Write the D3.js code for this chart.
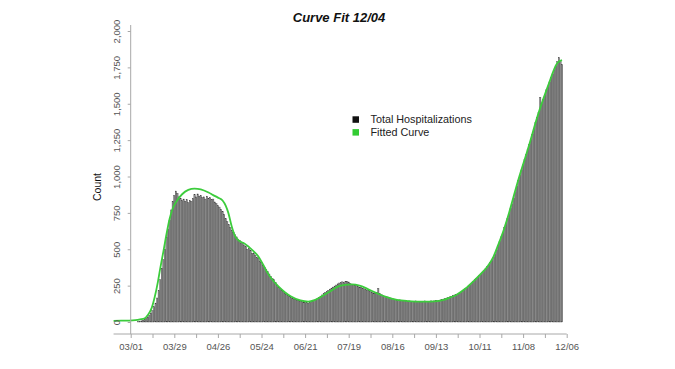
<!DOCTYPE html>
<html><head><meta charset="utf-8">
<script src="https://cdn.jsdelivr.net/npm/d3@7"></script>
<style>body{margin:0;background:#fff}svg{display:block;font-family:"Liberation Sans",Arial,sans-serif}</style>
</head><body>
<svg id="c" width="675" height="369"></svg>
<script>
const startDate = "2020-02-19";
const hospitalizations = [
0,0,0,0,0,0,0,0,0,0,
0,0,0,0,0,0,3,5,8,12,
18,25,35,48,62,80,105,130,165,215,
290,370,430,500,580,640,700,770,830,870,
900,885,860,850,835,845,830,840,820,835,
830,850,875,860,880,865,870,855,860,845,
865,850,855,840,845,825,815,800,790,775,
760,740,710,690,670,650,630,615,600,585,
570,560,540,545,525,520,500,505,490,470,
475,460,445,440,420,410,390,375,360,345,
330,315,300,290,270,255,240,230,220,210,
200,190,182,175,168,162,158,153,150,146,
143,140,137,134,132,130,133,138,143,148,
155,162,170,178,186,195,203,210,218,226,
233,240,247,254,262,268,272,276,270,278,
280,275,265,258,255,250,252,245,240,238,
232,228,222,218,215,210,205,200,198,205,
232,195,188,182,178,175,172,168,165,162,
158,155,152,150,152,148,146,148,145,143,
145,143,140,142,145,140,143,138,142,140,
145,142,140,143,145,142,145,148,146,150,
152,155,158,162,165,170,173,177,181,186,
189,192,198,205,212,220,228,238,248,258,
268,278,290,300,310,320,330,342,355,368,
380,393,408,425,445,468,495,525,555,585,
615,648,680,712,745,778,812,850,890,935,
975,1010,1045,1080,1115,1150,1185,1220,1255,1290,
1330,1370,1405,1440,1545,1500,1530,1565,1595,1620,
1650,1680,1705,1730,1760,1790,1818,1790,1770
];
// fitted curve: day offsets from 03/01 and values
const fitDays = [-11,-6,-1,3,6,9,11,13.5,15.5,17.5,19,21,23,25,27,29.5,33,37,41,45,50,53,56,59,61,62.7,64.8,67,70,73,76,79,82,85,88,91,95,99,103,109,114,118,122,128,133,138,142,147,152,158,164,171,178,188,195,201,205,209,215,221,225,229,233,236,239,242,249,255,262,268,274,277];
const fitValues = [8,9,10,13,18,25,48,97,175,278,370,485,605,710,780,830,878,908,917,912,890,872,855,835,800,750,660,590,555,540,515,485,450,395,336,290,243,205,175,148,140,150,172,210,243,255,258,250,228,198,172,152,144,140,142,152,168,186,230,290,333,380,450,530,615,715,979,1186,1439,1623,1780,1800];
const yTicks = [0,250,500,750,1000,1250,1500,1750,2000];
const yTickLabels = ["0","250","500","750","1,000","1,250","1,500","1,750","2,000"];
const xTickLabels = ["03/01","03/29","04/26","05/24","06/21","07/19","08/16","09/13","10/11","11/08","12/06"];
const title = "Curve Fit 12/04";
const yLabel = "Count";
const legendLabels = ["Total Hospitalizations","Fitted Curve"];

const svg = d3.select("#c");
const day0 = new Date(Date.UTC(2020,2,1));
const dayMs = 86400000;
const parse = d3.utcParse("%Y-%m-%d");
const s0 = parse(startDate);
const data = hospitalizations.map((v,i)=>({date:new Date(s0.getTime()+i*dayMs), v}));
const x = d3.scaleUtc().domain([day0, new Date(Date.UTC(2020,11,6))]).range([130.7,566.7]);
const y = d3.scaleLinear().domain([0,2000]).range([322,31]);
const bw = x(new Date(day0.getTime()+dayMs)) - x(day0);

// bars
svg.append("g").selectAll("rect").data(data).join("rect")
  .attr("x", d=>x(d.date)-bw/2+0.1)
  .attr("width", bw-0.2)
  .attr("y", d=>y(d.v))
  .attr("height", d=>y(0)-y(d.v))
  .attr("fill","#8c8c8c").attr("stroke","#3a3a3a").attr("stroke-width",0.35);

// fitted curve
const fit = fitDays.map((d,i)=>({date:new Date(day0.getTime()+d*dayMs), v:fitValues[i]}));
svg.append("path").datum(fit)
  .attr("d", d3.line().x(d=>x(d.date)).y(d=>y(d.v)).curve(d3.curveMonotoneX))
  .attr("fill","none").attr("stroke","#3ccc3c").attr("stroke-width",1.8);

// y axis
const axCol = "#a8a8a8", lblCol = "#555";
const yAxis = svg.append("g").attr("transform","translate(130.7,0)")
  .call(d3.axisLeft(y).tickValues(yTicks).tickSize(3).tickFormat((d,i)=>yTickLabels[i]));
yAxis.select(".domain").remove();
yAxis.append("line").attr("x1",0).attr("x2",0).attr("y1",25).attr("y2",334).attr("stroke",axCol);
yAxis.selectAll(".tick line").attr("stroke",axCol);
yAxis.selectAll(".tick text").attr("fill",lblCol).attr("font-size",9.5)
  .attr("font-family","Liberation Sans, Arial, sans-serif")
  .attr("text-anchor","middle").attr("x",0)
  .attr("transform","translate(-14.5,0) rotate(-90)").attr("dy","0.35em");

// x axis
const xTickDates = d3.range(0, 281, 14).map(d=>new Date(day0.getTime()+d*dayMs));
const xAxis = svg.append("g").attr("transform","translate(0,334)")
  .call(d3.axisBottom(x).tickValues(xTickDates).tickSize(4)
    .tickFormat((d,i)=> i%2===0 ? xTickLabels[i/2] : ""));
xAxis.select(".domain").remove();
xAxis.append("line").attr("x1",x(data[0].date)).attr("x2",566.7).attr("y1",0).attr("y2",0).attr("stroke",axCol);
xAxis.selectAll(".tick line").attr("stroke",axCol);
xAxis.selectAll(".tick text").attr("fill",lblCol).attr("font-size",9.5)
  .attr("font-family","Liberation Sans, Arial, sans-serif").attr("y",9.5);

// y label
svg.append("text").attr("transform","translate(101,187) rotate(-90)")
  .attr("text-anchor","middle").attr("font-size",10.5).attr("fill","#111").text(yLabel);

// title
svg.append("text").attr("x",339).attr("y",22).attr("text-anchor","middle")
  .attr("font-size",13).attr("font-weight","bold").attr("font-style","italic").attr("fill","#111").text(title);

// legend
const legColors = ["#111","#33cc33"];
const leg = svg.append("g");
legendLabels.forEach((t,i)=>{
  const cy = 119.5 + i*12.8;
  leg.append("rect").attr("x",352.5).attr("y",cy-3.2).attr("width",6.5).attr("height",6.5).attr("fill",legColors[i]);
  leg.append("text").attr("x",370.5).attr("y",cy).attr("dy","0.35em").attr("font-size",10.8).attr("fill","#222").text(t);
});
</script>
</body></html>
